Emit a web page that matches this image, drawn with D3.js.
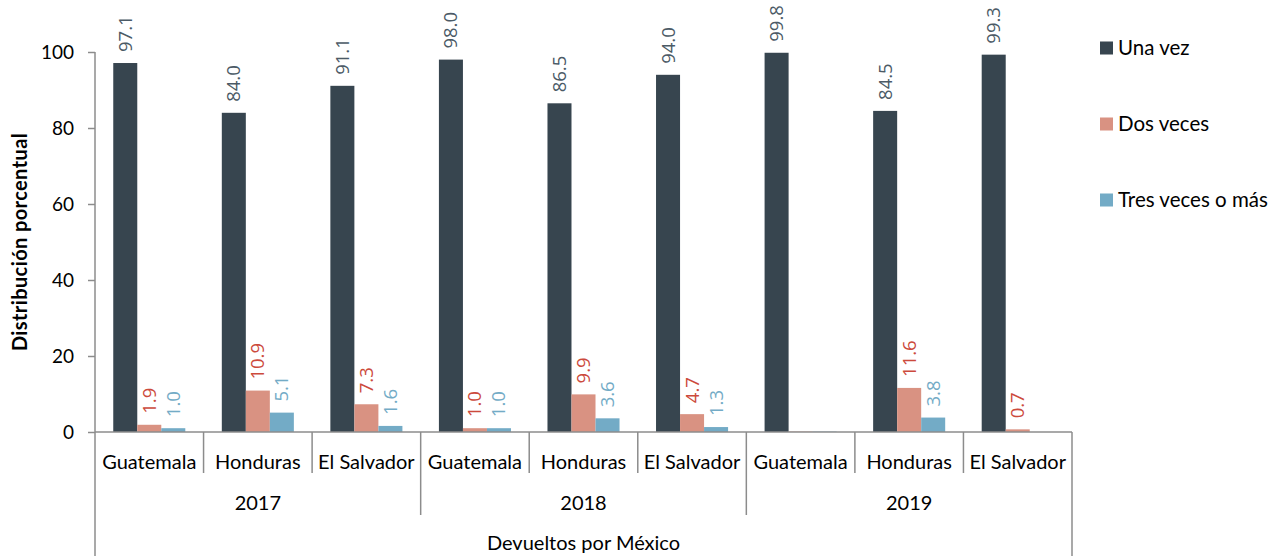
<!DOCTYPE html>
<html lang="es">
<head>
<meta charset="UTF-8">
<style>
  body { margin: 0; background: #fff; }
  text { font-family: Lato, "Open Sans", sans-serif; }
</style>
</head>
<body>
<div id="chart"></div>
<script src="https://d3js.org/d3.v7.min.js"></script>
<script>
// datos
var years = ["2017", "2018", "2019"];
var countries = ["Guatemala", "Honduras", "El Salvador"];
var seriesNames = ["Una vez", "Dos veces", "Tres veces o más"];
var unaVez    = [97.1, 84.0, 91.1, 98.0, 86.5, 94.0, 99.8, 84.5, 99.3];
var dosVeces  = [1.9, 10.9, 7.3, 1.0, 9.9, 4.7, 0.1, 11.6, 0.7];
var tresVeces = [1.0, 5.1, 1.6, 1.0, 3.6, 1.3, 0.1, 3.8, 0.0];
var yTicks = [0, 20, 40, 60, 80, 100];
var xTitle = "Devueltos por México";
var yTitle = "Distribución porcentual";

var barColors = ["#37454f", "#d99282", "#73abc6"];
var labelColors = ["#4b5a66", "#cc4a3c", "#73abc6"];

var width = 1287, height = 556;
// ojo: "top" choca con window.top
var mLeft = 95, mRight = 1072, mTop = 52, mBottom = 432;

var svg = d3.select("#chart").append("svg")
    .attr("width", width)
    .attr("height", height);

// categorias: año + país
var cats = [];
years.forEach(function(y) {
    countries.forEach(function(c) { cats.push(y + "|" + c); });
});

var rows = cats.map(function(k, i) {
    return { key: k, values: [unaVez[i], dosVeces[i], tresVeces[i]] };
});

var x0 = d3.scaleBand().domain(cats).range([mLeft, mRight]).padding(0);
var x1 = d3.scaleBand().domain([0, 1, 2]).range([0, x0.bandwidth()])
    .paddingInner(0).paddingOuter(0.76);
var y = d3.scaleLinear().domain([0, 100]).range([mBottom, mTop]);

// barras
var groups = svg.selectAll("g.cat")
    .data(rows)
    .enter().append("g")
    .attr("class", "cat")
    .attr("transform", function(d) { return "translate(" + x0(d.key) + ",0)"; });

groups.selectAll("rect")
    .data(function(d) { return d.values; })
    .enter().append("rect")
    .attr("x", function(d, i) { return x1(i); })
    .attr("y", function(d) { return y(d); })
    .attr("width", x1.bandwidth())
    .attr("height", function(d) { return mBottom - y(d); })
    .attr("fill", function(d, i) { return barColors[i]; });

// etiquetas de valor (rotadas)
groups.each(function(row) {
    d3.select(this).selectAll("text.val")
        .data(row.values.map(function(v, i) { return { v: v, i: i }; })
            .filter(function(d) { return d.v >= 0.5; }))
        .enter().append("text")
        .attr("class", "val")
        .attr("transform", function(d) {
            var cx = x1(d.i) + x1.bandwidth() / 2;
            return "translate(" + cx + "," + (y(d.v) - 11) + ") rotate(-90)";
        })
        .attr("dy", "0.35em")
        .attr("text-anchor", "start")
        .style("font-family", "'Open Sans', sans-serif")
        .style("font-size", "18.5px")
        .attr("fill", function(d) { return labelColors[d.i]; })
        .text(function(d) { return d.v.toFixed(1); });
});

// eje y
var yAxis = svg.append("g")
    .attr("transform", "translate(" + mLeft + ",0)")
    .call(d3.axisLeft(y).tickValues(yTicks).tickSize(7).tickSizeOuter(0).tickPadding(14));
yAxis.select(".domain").remove();
yAxis.selectAll("line").attr("stroke", "#8c8c8c").attr("stroke-width", 1.5);
yAxis.selectAll("text")
    .style("font-size", "19px")
    .attr("fill", "#000");

var gray = "#8c8c8c";
// linea vertical izquierda y derecha (hasta abajo)
svg.append("line").attr("x1", mLeft).attr("x2", mLeft).attr("y1", mTop).attr("y2", height)
    .attr("stroke", gray).attr("stroke-width", 1.5);
svg.append("line").attr("x1", mRight).attr("x2", mRight).attr("y1", mBottom).attr("y2", height)
    .attr("stroke", gray).attr("stroke-width", 1.5);
// eje x
svg.append("line").attr("x1", mLeft).attr("x2", mRight).attr("y1", mBottom).attr("y2", mBottom)
    .attr("stroke", gray).attr("stroke-width", 1.5);

// separadores de países
svg.selectAll("line.sep")
    .data(cats.slice(1))
    .enter().append("line")
    .attr("class", "sep")
    .attr("x1", function(d) { return x0(d); })
    .attr("x2", function(d) { return x0(d); })
    .attr("y1", mBottom)
    .attr("y2", function(d, i) { return (i + 1) % 3 === 0 ? 515 : 473; })
    .attr("stroke", gray).attr("stroke-width", 1.5);

// etiquetas de países
svg.selectAll("text.country")
    .data(cats)
    .enter().append("text")
    .attr("class", "country")
    .attr("x", function(d) { return x0(d) + x0.bandwidth() / 2; })
    .attr("y", 462)
    .attr("dy", "0.35em")
    .attr("text-anchor", "middle")
    .style("font-size", "20px")
    .text(function(d) { return d.split("|")[1]; });

// etiquetas de años
svg.selectAll("text.year")
    .data(years)
    .enter().append("text")
    .attr("class", "year")
    .attr("x", function(d) {
        return (x0(d + "|" + countries[0]) + x0(d + "|" + countries[2]) + x0.bandwidth()) / 2;
    })
    .attr("y", 503)
    .attr("dy", "0.35em")
    .attr("text-anchor", "middle")
    .style("font-size", "20px")
    .text(function(d) { return d; });

svg.append("text")
    .attr("x", (mLeft + mRight) / 2)
    .attr("y", 543)
    .attr("dy", "0.35em")
    .attr("text-anchor", "middle")
    .style("font-size", "20px")
    .text(xTitle);

svg.append("text")
    .attr("transform", "translate(20," + (mTop + mBottom) / 2 + ") rotate(-90)")
    .attr("dy", "0.35em")
    .attr("text-anchor", "middle")
    .style("font-size", "20px")
    .style("letter-spacing", "0.4px")
    .style("font-weight", "bold")
    .text(yTitle);

// leyenda
var legend = svg.selectAll("g.legend")
    .data(seriesNames)
    .enter().append("g")
    .attr("class", "legend")
    .attr("transform", function(d, i) { return "translate(1100," + (48 + i * 76) + ")"; });
legend.append("rect")
    .attr("x", 0).attr("y", -6.5)
    .attr("width", 13).attr("height", 13)
    .attr("fill", function(d, i) { return barColors[i]; });
legend.append("text")
    .attr("x", 18).attr("dy", "0.35em")
    .style("font-size", "20.5px")
    .text(function(d) { return d; });
</script>
</body>
</html>
